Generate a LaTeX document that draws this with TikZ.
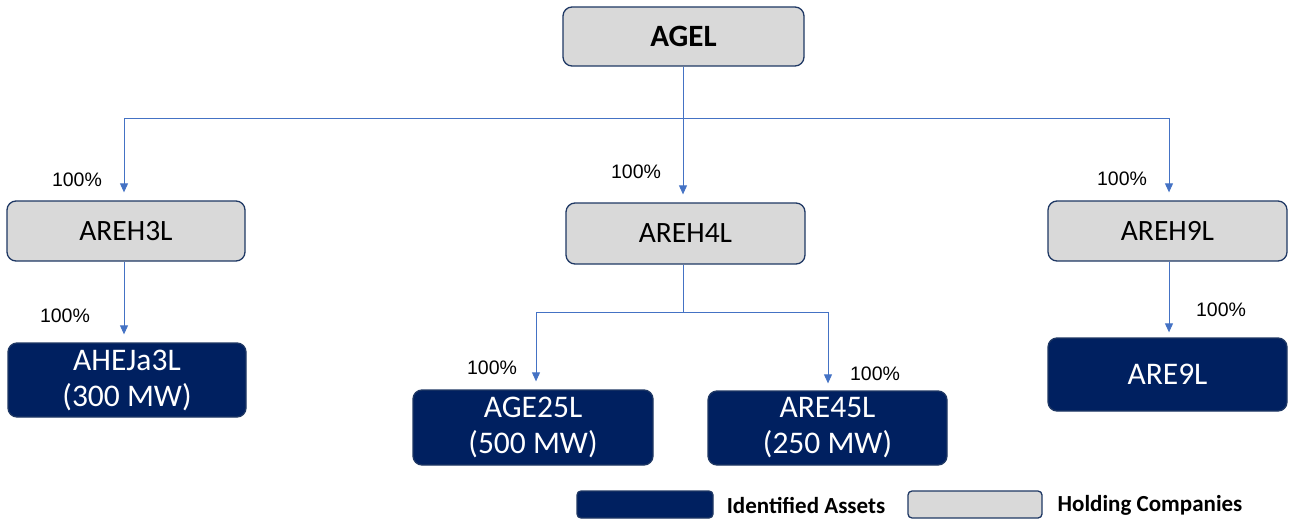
\documentclass[tikz,border=0pt]{standalone}
\usepackage{fontspec}
\setmainfont{Carlito}
\newfontfamily\pctfont{Liberation Sans}
\usetikzlibrary{arrows.meta}
\definecolor{hold}{HTML}{D9D9D9}
\definecolor{asset}{HTML}{002060}
\definecolor{edge}{HTML}{1F3864}
\definecolor{link}{HTML}{4472C4}
\tikzset{
  holdbox/.style={draw=edge, line width=1.3pt, fill=hold, rounded corners=9pt, text=black, font=\fontsize{29.5}{33}\selectfont, align=center, inner sep=0pt},
  assetbox/.style={draw=edge, line width=1.3pt, fill=asset, rounded corners=9pt, text=white, font=\fontsize{31.5}{36}\selectfont, align=center, inner sep=0pt},
  conn/.style={draw=link, line width=0.9pt},
  arr/.style={conn, -{Triangle[width=8pt,length=9pt]}, shorten >=8pt},
  pct/.style={font=\pctfont\fontsize{19.5}{22}\selectfont, inner sep=0pt},
  legtext/.style={font=\bfseries\fontsize{23}{26}\selectfont, inner sep=0pt}
}
\begin{document}
\begin{tikzpicture}[x=1pt,y=-1pt]
\useasboundingbox (0,0) rectangle (1289,519);
% nodes
\node[holdbox, minimum width=241pt, minimum height=59pt, font=\bfseries\fontsize{31}{35}\selectfont] (agel) at (683.5,36.5) {AGEL};
\node[holdbox, minimum width=238pt, minimum height=60pt] (areh3) at (126,231) {AREH3L};
\node[holdbox, minimum width=239pt, minimum height=61pt] (areh4) at (685.5,233.5) {AREH4L};
\node[holdbox, minimum width=239pt, minimum height=60pt] (areh9) at (1167.5,231) {AREH9L};
\node[assetbox, minimum width=238pt, minimum height=74pt] (ahe) at (127,380) {AHEJa3L\\(300 MW)};
\node[assetbox, minimum width=240pt, minimum height=75pt] (age) at (533,427.5) {AGE25L\\(500 MW)};
\node[assetbox, minimum width=239pt, minimum height=74pt] (are45) at (827.5,428) {ARE45L\\(250 MW)};
\node[assetbox, minimum width=239pt, minimum height=73pt] (are9) at (1167.5,374.5) {ARE9L};
% bus coordinates
\coordinate (bus) at (683,118);
\coordinate (busL) at (124,118);
\coordinate (busR) at (1169,118);
\coordinate (sub) at (683,312);
\coordinate (subL) at (536,312);
\coordinate (subR) at (828,312);
% connectors
\draw[conn] (agel.south -| bus) -- (bus);
\draw[conn] (busL) -- (busR);
\draw[arr] (busL) -- (busL |- areh3.north);
\draw[arr] (bus) -- (bus |- areh4.north);
\draw[arr] (busR) -- (busR |- areh9.north);
\draw[arr] (areh3.south -| busL) -- (busL |- ahe.north);
\draw[conn] (areh4.south -| sub) -- (sub);
\draw[conn] (subL) -- (subR);
\draw[arr] (subL) -- (subL |- age.north);
\draw[arr,shorten >=7pt] (subR) -- (subR |- are45.north);
\draw[arr,shorten >=5pt] (areh9.south -| busR) -- (busR |- are9.north);
% labels
\node[pct] (p1) at (77,180) {100\%};
\node[pct] (p2) at (636,172) {100\%};
\node[pct] (p3) at (1122,179) {100\%};
\node[pct] (p4) at (65,316) {100\%};
\node[pct] (p5) at (492,368) {100\%};
\node[pct] (p6) at (875,374) {100\%};
\node[pct] (p7) at (1221,310) {100\%};
% legend
\node[draw=edge, line width=1.3pt, fill=asset, rounded corners=4pt, minimum width=136pt, minimum height=27pt, inner sep=0pt] (legA) at (645,504.5) {};
\node[legtext] (legAt) at (806,505) {Identified Assets};
\node[draw=edge, line width=1.3pt, fill=hold, rounded corners=4pt, minimum width=134pt, minimum height=27pt, inner sep=0pt] (legH) at (975,504.5) {};
\node[legtext] (legHt) at (1150,505) {Holding Companies};
\end{tikzpicture}
\end{document}
